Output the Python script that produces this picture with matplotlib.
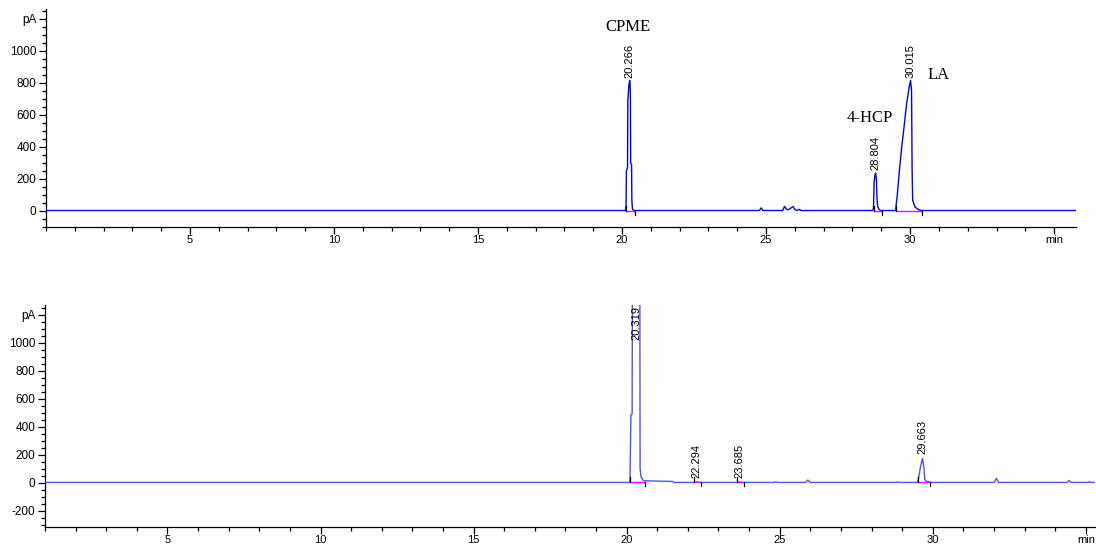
import matplotlib
matplotlib.use("Agg")
import matplotlib.pyplot as plt
from matplotlib.ticker import MultipleLocator, FixedLocator, FixedFormatter

# ---------------- data ----------------
top_time = [0.0, 20.12, 20.14, 20.15, 20.19, 20.20, 20.24, 20.266, 20.28, 20.29, 20.30, 20.33, 20.34,
            20.36, 20.42, 24.77, 24.83, 24.89, 25.58, 25.64, 25.72, 25.80, 25.93, 26.02, 26.10, 26.16,
            26.22, 28.70, 28.73, 28.75, 28.78, 28.804, 28.83, 28.85, 28.88, 28.93, 28.98, 29.50, 29.51,
            29.56, 29.63, 29.71, 29.79, 29.88, 29.97, 30.015, 30.05, 30.06, 30.07, 30.09, 30.17, 30.29,
            30.41, 35.76]
top_signal = [3, 3, 40, 250, 270, 690, 790, 815, 790, 690, 300, 290, 70,
              12, 3, 3, 19, 3, 3, 29, 8, 10, 28, 6, 4, 10,
              3, 3, 20, 180, 225, 236, 200, 80, 25, 8, 3, 3, 25,
              109, 254, 400, 525, 671, 775, 815, 754, 525, 254, 67, 25, 8,
              3, 3]

bottom_time = [1.0, 20.10, 20.11, 20.14, 20.18, 20.19, 20.319, 20.43, 20.44, 20.47, 20.55, 21.50, 21.55,
               22.22, 22.29, 22.38, 23.62, 23.685, 23.78, 24.82, 24.87, 24.92, 25.84, 25.92, 26.00,
               28.80, 28.84, 28.88, 29.50, 29.52, 29.60, 29.663, 29.71, 29.74, 29.79, 29.85, 29.95,
               32.00, 32.08, 32.15, 34.38, 34.45, 34.52, 35.08, 35.12, 35.16, 35.30]
bottom_signal = [3, 3, 20, 484, 490, 1600, 2500, 1600, 103, 43, 15, 10, 3,
                 3, 7, 3, 3, 6, 3, 3, 8, 3, 3, 20, 3,
                 3, 7, 3, 3, 15, 114, 174, 114, 24, 12, 8, 3,
                 3, 31, 3, 3, 17, 3, 3, 8, 3, 3]

top_rt = [20.266, 28.804, 30.015]
top_rt_height = [815, 236, 815]
top_int_start = [20.13, 28.73, 29.51]
top_int_end = [20.46, 29.04, 30.41]
compound_names = ["CPME", "4-HCP", "LA"]

bottom_rt = [20.319, 22.294, 23.685, 29.663]
bottom_rt_height = [2500, 7, 6, 174]
bottom_int_start = [20.11, 22.20, 23.60, 29.52]
bottom_int_end = [20.60, 22.42, 23.83, 29.90]

y_ticks = [0, 200, 400, 600, 800, 1000, 1200]
y_ticks_bottom = [-200, 0, 200, 400, 600, 800, 1000, 1200]
x_ticks = [5, 10, 15, 20, 25, 30, 35]

# ---------------- figure ----------------
plt.rcParams['font.family'] = ['Liberation Sans', 'DejaVu Sans']
fig = plt.figure(figsize=(10.96, 5.47), dpi=100)

W, H = 1096, 547
ax1 = fig.add_axes([46 / W, 1 - 227 / H, (1076 - 46) / W, (227 - 9) / H])
ax2 = fig.add_axes([45 / W, 1 - 527 / H, (1095 - 45) / W, (527 - 305) / H])


def style_axis(ax, yt, xlim, ylim, hpx):
    ax.set_xlim(*xlim)
    ax.set_ylim(*ylim)
    for s in ['top', 'right']:
        ax.spines[s].set_visible(False)
    for s in ['left', 'bottom']:
        ax.spines[s].set_linewidth(0.9)
        ax.spines[s].set_color('black')
    ax.yaxis.set_major_locator(FixedLocator(yt))
    ax.yaxis.set_major_formatter(FixedFormatter([str(v) if v != 1200 else 'pA' for v in yt]))
    ax.yaxis.set_minor_locator(MultipleLocator(50))
    ax.xaxis.set_major_locator(FixedLocator(x_ticks))
    ax.xaxis.set_major_formatter(FixedFormatter([str(v) if v != 35 else 'min' for v in x_ticks]))
    ax.xaxis.set_minor_locator(MultipleLocator(1))
    ax.tick_params(axis='both', which='major', direction='out', length=5, width=0.9,
                   labelsize=8.5, pad=2, colors='black')
    ax.tick_params(axis='both', which='minor', direction='out', length=3, width=0.9)
    ax.tick_params(axis='x', which='major', length=5, pad=1, labelsize=8)
    ax.patch.set_alpha(0)
    return (ylim[1] - ylim[0]) / hpx  # data units per pixel


upp1 = style_axis(ax1, y_ticks, (0, 35.76), (-100, 1261), 218)
upp2 = style_axis(ax2, y_ticks_bottom, (1.0, 35.3), (-315, 1269), 222)

# traces
ax1.plot(top_time, top_signal, color='#0000ff', lw=1.0, zorder=3)
ax2.plot(bottom_time, bottom_signal, color='#5050ff', lw=1.0, zorder=3)

# integration baselines and event ticks
for ax, starts, ends, upp in [(ax1, top_int_start, top_int_end, upp1),
                              (ax2, bottom_int_start, bottom_int_end, upp2)]:
    for s, e in zip(starts, ends):
        ax.plot([s, e - 0.04], [3, 3], color='#ff00ff', lw=1.0, zorder=4)
        ax.plot([s, s], [3, 3 + 5 * upp], color='black', lw=0.9, zorder=5)
        ax.plot([e, e], [3, 3 - 4 * upp], color='black', lw=0.9, zorder=5)

# retention-time labels
for rt, h in zip(top_rt, top_rt_height):
    ax1.annotate(f"{rt:.3f}", xy=(rt, h), xytext=(0, 2), textcoords='offset points',
                 rotation=90, ha='center', va='bottom', fontsize=8)
for rt, h in zip(bottom_rt, bottom_rt_height):
    if h > 1269:
        ax2.annotate(f"{rt:.3f}", xy=(rt, 1269), xytext=(0, -1), textcoords='offset points',
                     rotation=90, ha='center', va='top', fontsize=8)
    else:
        ax2.annotate(f"{rt:.3f}", xy=(rt, h), xytext=(0, 3), textcoords='offset points',
                     rotation=90, ha='center', va='bottom', fontsize=8)

# compound names
name_pos = [(20.21, 1148), (28.61, 579), (31.0, 848)]
for name, (x, y) in zip(compound_names, name_pos):
    ax1.text(x, y, name, family=['Liberation Serif', 'DejaVu Serif'], fontsize=12,
             ha='center', va='center')

fig.savefig("out.png", dpi=100)
